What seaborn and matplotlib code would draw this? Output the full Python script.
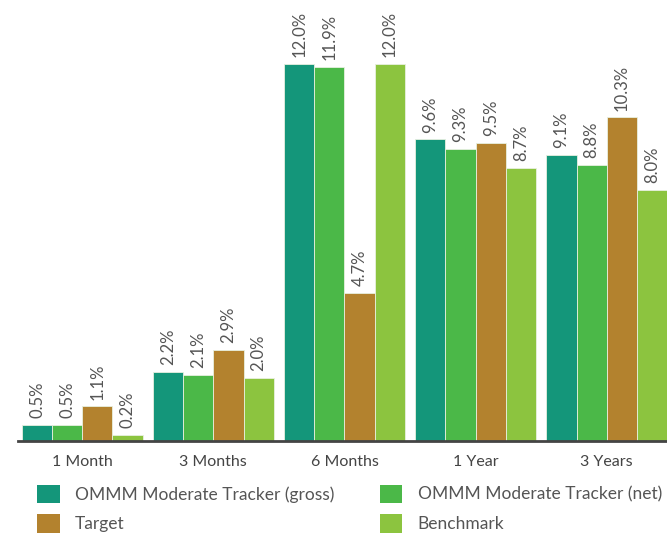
import pandas as pd
import matplotlib.pyplot as plt
import seaborn as sns
from matplotlib.patches import Patch

periods = ["1 Month", "3 Months", "6 Months", "1 Year", "3 Years"]
series = ["OMMM Moderate Tracker (gross)", "OMMM Moderate Tracker (net)", "Target", "Benchmark"]
gross = [0.5, 2.2, 12.0, 9.6, 9.1]
net = [0.5, 2.1, 11.9, 9.3, 8.8]
target = [1.1, 2.9, 4.7, 9.5, 10.3]
benchmark = [0.2, 2.0, 12.0, 8.7, 8.0]
colors = ["#14967a", "#4bb848", "#b3822e", "#8cc43f"]

rows = []
for name, vals in zip(series, [gross, net, target, benchmark]):
    for p, v in zip(periods, vals):
        rows.append({"Period": p, "Series": name, "Return": v})
df = pd.DataFrame(rows)

sns.set_theme(style="white")
plt.rcParams["font.family"] = ["Lato", "DejaVu Sans"]

fig = plt.figure(figsize=(6.67, 5.33), dpi=100)
ax = fig.add_axes([18 / 667, (533 - 441) / 533, 649 / 667, 441 / 533])

sns.barplot(data=df, x="Period", y="Return", hue="Series", palette=colors,
            saturation=1, width=0.92, edgecolor="#e8f0e0", linewidth=0.6,
            ax=ax, legend=False)

for c in ax.containers:
    ax.bar_label(c, labels=[f"{v:.1f}%" for v in c.datavalues], rotation=90,
                 padding=5, fontsize=12, color="#555555")

ax.set_xlim(-0.49, 4.46)
ax.set_ylim(0, 14.04)
ax.set_xlabel("")
ax.set_ylabel("")
ax.set_yticks([])
for s in ["top", "right", "left"]:
    ax.spines[s].set_visible(False)
ax.spines["bottom"].set_color("#444444")
ax.spines["bottom"].set_linewidth(2)
ax.spines["bottom"].set_zorder(5)
ax.tick_params(axis="x", length=0, pad=10, labelsize=11.5, labelcolor="#444444")

# legend fills column-wise, so reorder to get rows: gross/net, target/benchmark
order = [0, 2, 1, 3]
handles = [Patch(facecolor=colors[i], edgecolor="none") for i in order]
labels = [series[i] for i in order]
fig.legend(handles, labels, ncol=2, loc="upper left", bbox_to_anchor=(0.045, 0.104),
           frameon=False, fontsize=12.5, labelcolor="#555555", handlelength=1.3,
           handleheight=1.3, handletextpad=0.9, columnspacing=2.6, labelspacing=0.6,
           borderaxespad=0)

plt.savefig("out.png", dpi=100)
plt.close()
